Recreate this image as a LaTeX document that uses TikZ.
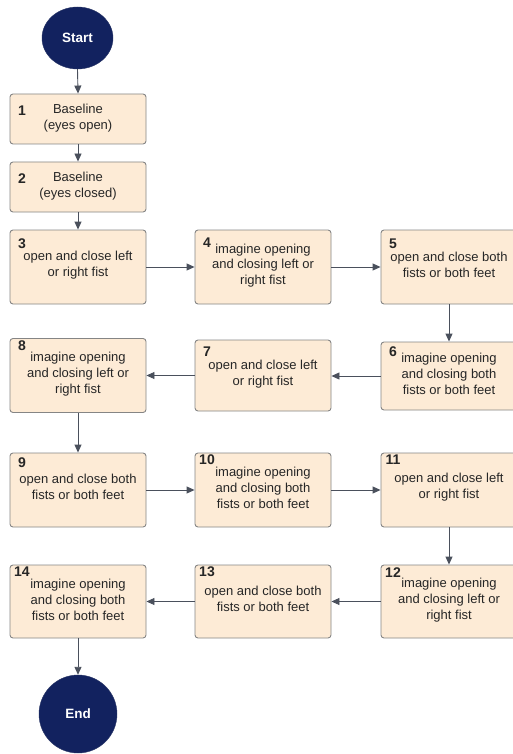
\documentclass[tikz,border=0pt]{standalone}
\usepackage{fontspec}
\setmainfont{Liberation Sans}
\usetikzlibrary{arrows.meta,shapes.geometric}
\definecolor{boxfill}{HTML}{FDEBD6}
\definecolor{boxline}{HTML}{858585}
\definecolor{navy}{HTML}{12225F}
\definecolor{arrowc}{HTML}{4A505C}
\definecolor{txtc}{HTML}{262626}
\begin{document}
\begin{tikzpicture}[x=1pt,y=-1pt,
  stepbox/.style={draw=boxline,fill=boxfill,line width=0.9pt,rounded corners=3pt,minimum width=136pt,inner sep=0pt},
  txt/.style={align=center,text=txtc,font=\fontsize{13}{15.8}\selectfont,inner sep=0pt},
  num/.style={text=txtc,font=\fontsize{14}{14}\bfseries\selectfont,inner sep=0pt},
  term/.style={fill=navy,draw=navy!80!gray,text=white,font=\fontsize{13.5}{13.5}\bfseries\selectfont,inner sep=0pt},
  conn/.style={draw=arrowc,line width=0.9pt,-{Triangle[length=8pt,width=7pt]}}
]
\useasboundingbox (0,0) rectangle (513,754);
% terminals
\node[term,ellipse,minimum width=71pt,minimum height=62pt] (start) at (77.5,38) {Start};
\node[term,circle,minimum size=78pt] (end) at (78,714) {End};
% boxes
\node[stepbox,minimum height=50pt] (b1) at (78,119) {};
\node[stepbox,minimum height=50pt] (b2) at (78,187) {};
\node[stepbox,minimum height=74pt] (b3) at (78,267) {};
\node[stepbox,minimum height=74pt] (b4) at (263,267) {};
\node[stepbox,minimum height=74pt] (b5) at (449,267) {};
\node[stepbox,minimum height=68pt] (b6) at (449,376) {};
\node[stepbox,minimum height=71pt] (b7) at (263,375.5) {};
\node[stepbox,minimum height=74pt] (b8) at (78,375.5) {};
\node[stepbox,minimum height=74pt] (b9) at (78,490) {};
\node[stepbox,minimum height=74pt] (b10) at (263,490) {};
\node[stepbox,minimum height=74pt] (b11) at (449,490) {};
\node[stepbox,minimum height=73pt] (b12) at (449,601.5) {};
\node[stepbox,minimum height=73pt] (b13) at (263,601.5) {};
\node[stepbox,minimum height=73pt] (b14) at (78,601.5) {};
% numbers
\node[num] (n1) at (22,111) {1};
\node[num] (n2) at (22,179) {2};
\node[num] (n3) at (22,244) {3};
\node[num] (n4) at (207,243) {4};
\node[num] (n5) at (393,244) {5};
\node[num] (n6) at (393,352) {6};
\node[num] (n7) at (207,352) {7};
\node[num] (n8) at (22,346) {8};
\node[num] (n9) at (22,463) {9};
\node[num] (n10) at (207,460) {10};
\node[num] (n11) at (393,460) {11};
\node[num] (n12) at (393,573) {12};
\node[num] (n13) at (207,572) {13};
\node[num] (n14) at (22,572) {14};
% texts
\node[txt] (t1) at (78,118.5) {Baseline\\(eyes open)};
\node[txt] (t2) at (78,186.5) {Baseline\\(eyes closed)};
\node[txt] (t3) at (78,265) {open and close left\\or right fist};
\node[txt] (t4) at (263,265.5) {imagine opening\\and closing left or\\right fist};
\node[txt] (t5) at (449,265) {open and close both\\fists or both feet};
\node[txt] (t6) at (449,374) {imagine opening\\and closing both\\fists or both feet};
\node[txt] (t7) at (263,374) {open and close left\\or right fist};
\node[txt] (t8) at (78,374) {imagine opening\\and closing left or\\right fist};
\node[txt] (t9) at (78,487) {open and close both\\fists or both feet};
\node[txt] (t10) at (263,488) {imagine opening\\and closing both\\fists or both feet};
\node[txt] (t11) at (449,487) {open and close left\\or right fist};
\node[txt] (t12) at (449,600) {imagine opening\\and closing left or\\right fist};
\node[txt] (t13) at (263,599) {open and close both\\fists or both feet};
\node[txt] (t14) at (78,600) {imagine opening\\and closing both\\fists or both feet};
% connectors
\draw[conn] (start.south) -- (b1.north);
\draw[conn] (b1.south) -- (b2.north);
\draw[conn] (b2.south) -- (b3.north);
\draw[conn] (b3.east) -- (b4.west);
\draw[conn] (b4.east) -- (b5.west);
\draw[conn] (b5.south) -- (b6.north);
\draw[conn] (b6.west) -- (b6.west -| b7.east);
\draw[conn] (b7.west) -- (b7.west -| b8.east);
\draw[conn] (b8.south) -- (b9.north);
\draw[conn] (b9.east) -- (b10.west);
\draw[conn] (b10.east) -- (b11.west);
\draw[conn] (b11.south) -- (b12.north);
\draw[conn] (b12.west) -- (b13.east);
\draw[conn] (b13.west) -- (b14.east);
\draw[conn] (b14.south) -- (end.north);
\end{tikzpicture}
\end{document}
